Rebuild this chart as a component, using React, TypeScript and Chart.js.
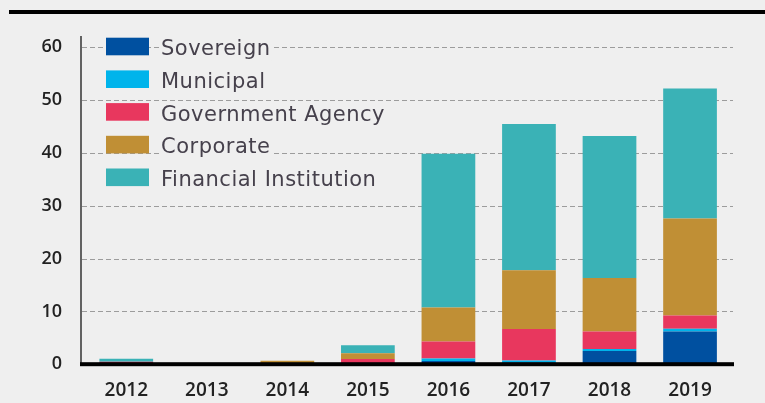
import React, { useEffect, useRef } from "react";
import { Chart, registerables } from "chart.js";

Chart.register(...registerables);

const categories = ["2012", "2013", "2014", "2015", "2016", "2017", "2018", "2019"];
const sovereign = [0, 0, 0, 0, 0.6, 0.3, 2.5, 6.2];
const municipal = [0, 0, 0, 0, 0.5, 0.4, 0.4, 0.5];
const governmentAgency = [0.45, 0, 0, 1.0, 3.2, 5.95, 3.3, 2.5];
const corporate = [0, 0, 0.65, 1.05, 6.45, 11.15, 10.1, 18.4];
const financialInstitution = [0.6, 0, 0, 1.55, 29.1, 27.7, 26.9, 24.6];

const seriesNames = ["Sovereign", "Municipal", "Government Agency", "Corporate", "Financial Institution"];
const seriesColors = ["#0050a0", "#00b4eb", "#e8375e", "#c08f35", "#3ab2b6"];
const yTicks = [0, 10, 20, 30, 40, 50, 60];

const BG = "#efefef";

const decorPlugin = {
  id: "decor",
  beforeDraw(chart: any) {
    const { ctx, width, height } = chart;
    ctx.save();
    ctx.fillStyle = BG;
    ctx.fillRect(0, 0, width, height);
    // top rule
    ctx.fillStyle = "#000";
    ctx.fillRect(9, 10, width - 9, 4);
    ctx.restore();
  },
  beforeDatasetsDraw(chart: any) {
    const { ctx } = chart;
    const y = chart.scales.y;
    ctx.save();
    ctx.strokeStyle = "#9c9c9c";
    ctx.lineWidth = 1;
    ctx.setLineDash([5, 3]);
    yTicks.forEach((v) => {
      if (v === 0) return;
      const py = Math.round(y.getPixelForValue(v)) + 0.5;
      ctx.beginPath();
      ctx.moveTo(82, py);
      ctx.lineTo(733, py);
      ctx.stroke();
    });
    ctx.setLineDash([]);
    // left axis line
    ctx.strokeStyle = "#333";
    ctx.lineWidth = 1.5;
    ctx.beginPath();
    ctx.moveTo(81, 36);
    ctx.lineTo(81, y.getPixelForValue(0));
    ctx.stroke();
    ctx.restore();
  },
  afterDatasetsDraw(chart: any) {
    const { ctx } = chart;
    const y = chart.scales.y;
    const y0 = y.getPixelForValue(0);
    ctx.save();
    // bottom axis
    ctx.fillStyle = "#000";
    ctx.fillRect(80, y0 - 2, 654, 4);
    // legend
    ctx.font = '400 21px "DejaVu Sans"';
    try {
      (ctx as any).letterSpacing = "0.5px";
    } catch (e) {}
    ctx.textBaseline = "alphabetic";
    ctx.textAlign = "left";
    seriesNames.forEach((name, i) => {
      const base = 55.3 + i * 32.7;
      ctx.fillStyle = seriesColors[i];
      ctx.fillRect(106, base - 17.6, 43, 17.6);
      const w = ctx.measureText(name).width;
      ctx.fillStyle = BG;
      ctx.fillRect(160, base - 17, w + 2, 22);
      ctx.fillStyle = "#46414c";
      ctx.fillText(name, 161, base);
    });
    ctx.restore();
  },
};

export default function App() {
  const canvasRef = useRef<HTMLCanvasElement | null>(null);

  useEffect(() => {
    document.body.style.margin = "0";
    document.body.style.background = BG;
    const canvas = canvasRef.current;
    if (!canvas) return;
    const datasets = [sovereign, municipal, governmentAgency, corporate, financialInstitution].map((data, i) => ({
      label: seriesNames[i],
      data,
      backgroundColor: seriesColors[i],
      borderWidth: 0,
      barPercentage: 0.667,
      categoryPercentage: 1,
    }));
    const tickFontY = { family: '"Open Sans"', size: 18, weight: 600 as any };
    const tickFontX = { family: '"Open Sans"', size: 19, weight: 600 as any };
    const chart = new Chart(canvas, {
      type: "bar",
      data: { labels: categories, datasets },
      options: {
        responsive: false,
        animation: false,
        devicePixelRatio: 1,
        layout: { padding: { top: 47.3, right: 34.7, bottom: 0, left: 0 } },
        plugins: { legend: { display: false }, tooltip: { enabled: false } },
        scales: {
          x: {
            stacked: true,
            grid: { display: false, drawTicks: false },
            border: { display: false },
            ticks: { font: tickFontX, color: "#222", padding: 15, maxRotation: 0, autoSkip: false },
            afterFit: (s: any) => {
              s.height = 38.8;
            },
          },
          y: {
            stacked: true,
            min: 0,
            max: 60,
            grid: { display: false, drawTicks: false },
            border: { display: false },
            ticks: { stepSize: 10, font: tickFontY, color: "#222", padding: 24 },
            afterFit: (s: any) => {
              s.width = 86;
            },
          },
        },
      },
      plugins: [decorPlugin],
    });
    return () => chart.destroy();
  }, []);

  return (
    <div style={{ width: 765, height: 403, background: BG, position: "relative" }}>
      <canvas ref={canvasRef} width={765} height={403} style={{ display: "block" }} />
    </div>
  );
}
